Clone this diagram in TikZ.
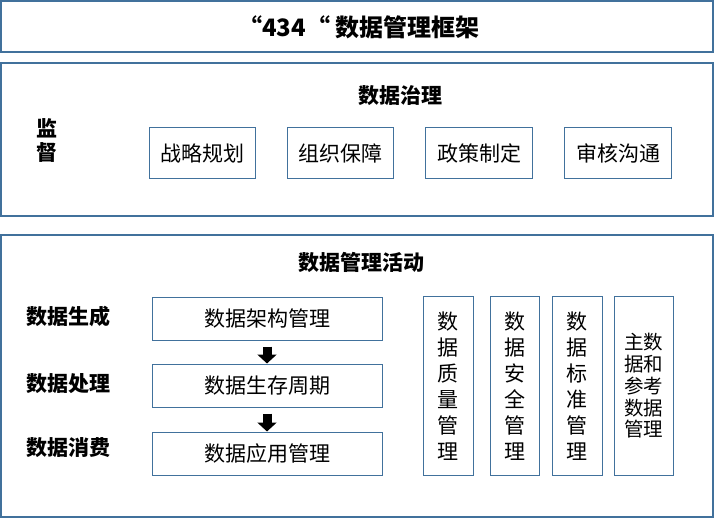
\documentclass[tikz,border=0pt]{standalone}
\usepackage{fontspec}
\setmainfont{Noto Sans CJK SC}
\usetikzlibrary{arrows.meta,positioning}
\definecolor{frameblue}{RGB}{65,113,156}
\tikzset{
  frame/.style={draw=frameblue,line width=1.2pt},
  item/.style={draw=frameblue,line width=1pt,inner sep=0pt,align=center,
    font=\fontsize{21}{26}\selectfont},
  head/.style={align=center,font=\bfseries\fontsize{21}{24}\selectfont},
  flow/.style={line width=9pt,-{Triangle[width=19pt,length=9pt]},shorten <=6pt}
}
\begin{document}
\begin{tikzpicture}[x=1pt,y=-1pt]
\useasboundingbox (0,0) rectangle (714,518);

% title
\draw[frame] (1,1) rectangle (713,52);
\node[font=\bfseries\fontsize{24}{24}\selectfont] (title) at (359,27) {“434“ 数据管理框架};

% governance
\draw[frame] (1,63) rectangle (713,216);
\node[head] (gov) at (400,96) {数据治理};
\node[head] (watch) at (46.5,140) {监\\督};
\node[item,minimum width=106pt,minimum height=51pt] (plan) at (202,153.5) {战略规划};
\node[item,minimum width=106pt,minimum height=51pt] (org) at (340,153.5) {组织保障};
\node[item,minimum width=107pt,minimum height=51pt] (policy) at (479,153.5) {政策制定};
\node[item,minimum width=107pt,minimum height=51pt] (audit) at (618,153.5) {审核沟通};

% activities
\draw[frame] (1,235) rectangle (713,517);
\node[head] (act) at (361,262) {数据管理活动};
\node[head] (gen) at (68,316) {数据生成};
\node[head] (proc) at (68,384) {数据处理};
\node[head] (use) at (68,448) {数据消费};

\node[item,minimum width=230pt,minimum height=42pt] (arch) at (267,319) {数据架构管理};
\node[item,minimum width=230pt,minimum height=43pt] (life) at (267,385.5) {数据生存周期};
\node[item,minimum width=230pt,minimum height=43pt] (app) at (267,453.5) {数据应用管理};
\draw[flow] (arch.south) -- (life.north);
\draw[flow] (life.south) -- (app.north);

\node[item,minimum width=50pt,minimum height=178pt] (qual) at (448,386) {数\\据\\质\\量\\管\\理};
\node[item,minimum width=49pt,minimum height=178pt] (sec) at (514.5,386) {数\\据\\安\\全\\管\\理};
\node[item,minimum width=50pt,minimum height=178pt] (std) at (577,386) {数\\据\\标\\准\\管\\理};
\node[item,minimum width=59pt,minimum height=178pt,font=\fontsize{19.5}{21.75}\selectfont] (master) at (643.5,386) {主数\\据和\\参考\\数据\\管理};

\end{tikzpicture}
\end{document}
